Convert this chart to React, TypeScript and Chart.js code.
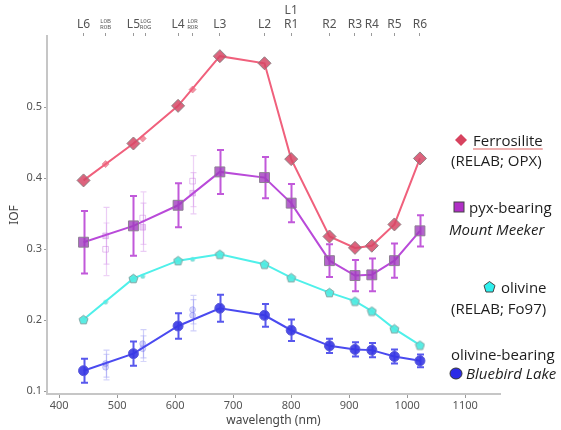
import React, { useEffect, useRef } from 'react';
import { Chart, registerables } from 'chart.js';
Chart.register(...registerables);

// ---------------- data ----------------
const WL_MAIN = [442, 528, 605, 677, 754, 800, 866, 910, 939, 978, 1022];
const WL_BAYER = [480, 544, 630];

const FERRO = [0.397, 0.449, 0.502, 0.572, 0.562, 0.427, 0.318, 0.302, 0.305, 0.335, 0.428];
const FERRO_BAYER = [0.420, 0.456, 0.525];

const PYX = [0.310, 0.333, 0.362, 0.409, 0.401, 0.365, 0.284, 0.263, 0.264, 0.284, 0.326];
const PYX_ERR = [0.044, 0.042, 0.031, 0.031, 0.029, 0.027, 0.023, 0.022, 0.023, 0.024, 0.022];
const PYX_BAYER_L = [0.319, 0.331, 0.379];
const PYX_BAYER_L_ERR = [0.040, 0.034, 0.029];
const PYX_BAYER_R = [0.300, 0.344, 0.396];
const PYX_BAYER_R_ERR = [0.037, 0.037, 0.036];

const OLIV = [0.201, 0.259, 0.284, 0.293, 0.279, 0.260, 0.239, 0.227, 0.213, 0.188, 0.165];
const OLIV_BAYER = [0.226, 0.262, 0.286];

const BLUE = [0.129, 0.153, 0.192, 0.217, 0.207, 0.186, 0.164, 0.159, 0.158, 0.149, 0.143];
const BLUE_ERR = [0.017, 0.017, 0.018, 0.019, 0.016, 0.015, 0.010, 0.010, 0.010, 0.010, 0.009];
const BLUE_BAYER_L = [0.139, 0.167, 0.207];
const BLUE_BAYER_L_ERR = [0.019, 0.020, 0.022];
const BLUE_BAYER_R = [0.134, 0.160, 0.215];
const BLUE_BAYER_R_ERR = [0.018, 0.018, 0.020];

const X_TICKS = [400, 500, 600, 700, 800, 900, 1000, 1100];
const Y_TICKS = [0.1, 0.2, 0.3, 0.4, 0.5];
const TOP_TICK_WL = [442, 480, 528, 549, 605, 630, 677, 754, 800, 866, 910, 939, 978, 1022];
const TOP_TICK_LABELS: (string | string[])[] = [
  'L6', ['L0B', 'R0B'], 'L5', ['L0G', 'R0G'], 'L4', ['L0R', 'R0R'], 'L3', 'L2', ['L1', 'R1'],
  'R2', 'R3', 'R4', 'R5', 'R6',
];
const SMALL_TOP = [1, 3, 5];

// ---------------- helpers ----------------
const pts = (xs: number[], ys: number[]) => xs.map((x, i) => ({ x, y: ys[i] }));

function pentagon(size: number, fill: string, stroke: string) {
  const c = document.createElement('canvas');
  c.width = size;
  c.height = size;
  const g = c.getContext('2d')!;
  const r = size / 2 - 0.8;
  const cx = size / 2;
  const cy = size / 2 + r * 0.1;
  g.beginPath();
  for (let i = 0; i < 5; i++) {
    const a = -Math.PI / 2 + (i * 2 * Math.PI) / 5;
    const px = cx + r * Math.cos(a);
    const py = cy + r * Math.sin(a);
    if (i === 0) g.moveTo(px, py);
    else g.lineTo(px, py);
  }
  g.closePath();
  g.fillStyle = fill;
  g.fill();
  g.lineWidth = 1;
  g.strokeStyle = stroke;
  g.stroke();
  return c;
}

const errorBars = {
  id: 'errorBars',
  beforeDatasetsDraw(chart: any) {
    const { ctx, scales } = chart;
    const xs = scales.x;
    const ys = scales.y;
    chart.data.datasets.forEach((ds: any) => {
      if (!ds.errors) return;
      ctx.save();
      ctx.strokeStyle = ds.errColor;
      ctx.lineWidth = ds.errWidth || 1.5;
      ds.data.forEach((p: any, j: number) => {
        const e = ds.errors[j];
        const px = Math.round(xs.getPixelForValue(p.x)) + 0.5;
        const yt = ys.getPixelForValue(p.y + e);
        const yb = ys.getPixelForValue(p.y - e);
        const cw = ds.capW || 3;
        ctx.beginPath();
        ctx.moveTo(px, yt);
        ctx.lineTo(px, yb);
        ctx.moveTo(px - cw, yt);
        ctx.lineTo(px + cw, yt);
        ctx.moveTo(px - cw, yb);
        ctx.lineTo(px + cw, yb);
        ctx.stroke();
      });
      ctx.restore();
    });
  },
};

const FERRO_LINE = '#f0607c';
const PYX_LINE = '#b94ad9';
const OLIV_LINE = '#4ff0ea';
const BLUE_LINE = '#4a4af0';

export default function App() {
  const ref = useRef<HTMLCanvasElement>(null);

  useEffect(() => {
    const olivMain = pentagon(11, 'rgba(80,235,225,0.95)', '#7fa6a4');
    const olivSmall = pentagon(6, 'rgba(90,235,225,0.9)', '#8fd8d4');

    const chart = new Chart(ref.current!, {
      type: 'scatter',
      data: {
        datasets: [
          {
            label: 'pyxBL',
            data: pts(WL_BAYER, PYX_BAYER_L),
            showLine: false,
            pointStyle: 'rect',
            pointRadius: 4,
            backgroundColor: 'rgba(200,120,225,0.35)',
            borderColor: 'rgba(200,120,225,0.4)',
            borderWidth: 1,
            errors: PYX_BAYER_L_ERR,
            errColor: 'rgba(205,130,230,0.4)',
            errWidth: 1.2,
            capW: 3,
            order: 5,
          } as any,
          {
            label: 'pyxBR',
            data: pts(WL_BAYER, PYX_BAYER_R),
            showLine: false,
            pointStyle: 'rect',
            pointRadius: 4,
            backgroundColor: 'rgba(255,255,255,0)',
            borderColor: 'rgba(200,120,225,0.45)',
            borderWidth: 1,
            errors: PYX_BAYER_R_ERR,
            errColor: 'rgba(205,130,230,0.35)',
            errWidth: 1.2,
            capW: 3,
            order: 5,
          } as any,
          {
            label: 'blueBL',
            data: pts(WL_BAYER, BLUE_BAYER_L),
            showLine: false,
            pointStyle: 'circle',
            pointRadius: 3,
            backgroundColor: 'rgba(110,110,240,0.3)',
            borderColor: 'rgba(110,110,240,0.3)',
            borderWidth: 1,
            errors: BLUE_BAYER_L_ERR,
            errColor: 'rgba(120,120,240,0.35)',
            errWidth: 1.2,
            capW: 3,
            order: 5,
          } as any,
          {
            label: 'blueBR',
            data: pts(WL_BAYER, BLUE_BAYER_R),
            showLine: false,
            pointStyle: 'circle',
            pointRadius: 3,
            backgroundColor: 'rgba(110,110,240,0.25)',
            borderColor: 'rgba(110,110,240,0.3)',
            borderWidth: 1,
            errors: BLUE_BAYER_R_ERR,
            errColor: 'rgba(120,120,240,0.3)',
            errWidth: 1.2,
            capW: 3,
            order: 5,
          } as any,
          {
            label: 'ferroB',
            data: pts(WL_BAYER, FERRO_BAYER),
            showLine: false,
            pointStyle: 'rectRot',
            pointRadius: 3.5,
            backgroundColor: 'rgba(240,110,130,0.75)',
            borderColor: 'rgba(220,120,140,0.6)',
            borderWidth: 1,
            order: 4,
          },
          {
            label: 'olivB',
            data: pts(WL_BAYER, OLIV_BAYER),
            showLine: false,
            pointStyle: olivSmall,
            pointRadius: 3,
            order: 4,
          },
          {
            label: 'Ferrosilite',
            data: pts(WL_MAIN, FERRO),
            showLine: true,
            borderColor: FERRO_LINE,
            borderWidth: 2,
            pointStyle: 'rectRot',
            pointRadius: 6.5,
            pointBackgroundColor: 'rgba(214,72,102,0.85)',
            pointBorderColor: '#8d7f82',
            pointBorderWidth: 1,
            order: 1,
          },
          {
            label: 'pyx',
            data: pts(WL_MAIN, PYX),
            showLine: true,
            borderColor: PYX_LINE,
            borderWidth: 2,
            pointStyle: 'rect',
            pointRadius: 7,
            pointBackgroundColor: 'rgba(160,60,190,0.8)',
            pointBorderColor: '#8e7f94',
            pointBorderWidth: 1,
            errors: PYX_ERR,
            errColor: 'rgba(182,60,212,0.85)',
            errWidth: 2,
            capW: 3.5,
            order: 1,
          } as any,
          {
            label: 'olivine',
            data: pts(WL_MAIN, OLIV),
            showLine: true,
            borderColor: OLIV_LINE,
            borderWidth: 2,
            pointStyle: olivMain,
            pointRadius: 5,
            order: 1,
          },
          {
            label: 'blue',
            data: pts(WL_MAIN, BLUE),
            showLine: true,
            borderColor: BLUE_LINE,
            borderWidth: 2,
            pointStyle: 'circle',
            pointRadius: 5,
            pointBackgroundColor: 'rgba(55,55,228,0.9)',
            pointBorderColor: '#5a5ad8',
            pointBorderWidth: 1,
            errors: BLUE_ERR,
            errColor: 'rgba(70,70,235,0.9)',
            errWidth: 2,
            capW: 3.5,
            order: 1,
          } as any,
        ],
      },
      options: {
        responsive: false,
        animation: false,
        layout: { padding: { left: 0, right: 61, top: 0, bottom: 0 } },
        plugins: {
          legend: { display: false },
          tooltip: { enabled: false },
        },
        scales: {
          x: {
            type: 'linear',
            position: 'bottom',
            min: 379,
            max: 1160,
            afterBuildTicks: (s: any) => {
              s.ticks = X_TICKS.map((v) => ({ value: v }));
            },
            afterFit: (s: any) => {
              s.height = 36;
            },
            grid: { drawOnChartArea: false, drawTicks: true, tickLength: 4, color: '#9a9a9a', lineWidth: 1 },
            border: { display: true, color: '#c6c6c6', width: 2 },
            ticks: {
              autoSkip: false,
              maxRotation: 0,
              padding: 1,
              color: '#555',
              font: { family: '"Noto Sans", sans-serif', size: 11 },
              callback: (v: any) => String(v),
            },
            title: {
              display: true,
              text: 'wavelength (nm)',
              color: '#444',
              font: { family: '"Noto Sans", sans-serif', size: 12 },
              padding: { top: 0, bottom: 2 },
            },
          },
          x2: {
            type: 'linear',
            position: 'top',
            min: 379,
            max: 1160,
            afterBuildTicks: (s: any) => {
              s.ticks = TOP_TICK_WL.map((v) => ({ value: v }));
            },
            afterFit: (s: any) => {
              s.height = 36;
            },
            grid: { drawOnChartArea: false, drawTicks: true, tickLength: 3, color: '#9a9a9a', lineWidth: 1 },
            border: { display: false },
            ticks: {
              autoSkip: false,
              maxRotation: 0,
              padding: 2,
              color: '#555',
              font: (ctx: any) =>
                SMALL_TOP.includes(ctx.index)
                  ? { family: '"Noto Sans", sans-serif', size: 6, lineHeight: 1.1 }
                  : { family: '"Noto Sans", sans-serif', size: 12, lineHeight: 1.15 },
              callback: (_v: any, i: number) => TOP_TICK_LABELS[i] as any,
            },
          },
          y: {
            type: 'linear',
            min: 0.0962,
            max: 0.6004,
            afterBuildTicks: (s: any) => {
              s.ticks = Y_TICKS.map((v) => ({ value: v }));
            },
            afterFit: (s: any) => {
              s.width = 47;
            },
            grid: { drawOnChartArea: false, drawTicks: true, tickLength: 3, color: '#9a9a9a', lineWidth: 1 },
            border: { display: true, color: '#c6c6c6', width: 2 },
            ticks: {
              padding: 2,
              color: '#555',
              font: { family: '"Noto Sans", sans-serif', size: 11 },
              callback: (v: any) => Number(v).toFixed(1),
            },
            title: {
              display: true,
              text: 'IOF',
              color: '#444',
              font: { family: '"Noto Sans", sans-serif', size: 12 },
              padding: { top: 7, bottom: 0 },
            },
          },
        },
      } as any,
      plugins: [errorBars],
    });
    return () => chart.destroy();
  }, []);

  const txt: React.CSSProperties = {
    position: 'absolute',
    fontFamily: '"Open Sans", sans-serif',
    fontSize: 15,
    color: '#1e1e1e',
    lineHeight: 1,
    whiteSpace: 'nowrap',
    transform: 'translateY(-50%)',
  };

  return (
    <div style={{ position: 'fixed', left: 0, top: 0, width: 561, height: 430, background: '#fff' }}>
      <canvas ref={ref} width={561} height={430} style={{ position: 'absolute', left: 0, top: 0 }} />
      <svg width={561} height={430} style={{ position: 'absolute', left: 0, top: 0, pointerEvents: 'none' }}>
        <polygon points="461,134 467,140 461,146 455,140" fill="#d7435f" />
        <rect x={454} y={202} width={10} height={10} fill="#b02fc6" stroke="#444" strokeWidth={1} />
        <polygon points="489.5,281.5 495,285.5 493,292 486,292 484,285.5" fill="#2ff0ee" stroke="#444" strokeWidth={1} />
        <ellipse cx={456} cy={373.5} rx={6} ry={5.5} fill="#2b2be6" stroke="#333" strokeWidth={1} />
      </svg>
      <div
        style={{
          ...txt,
          left: 473,
          top: 140,
          textDecoration: 'underline',
          textDecorationColor: '#e06060',
          textDecorationThickness: '1px',
          textUnderlineOffset: '3px',
        }}
      >
        Ferrosilite
      </div>
      <div style={{ ...txt, left: 451, top: 160 }}>(RELAB; OPX)</div>
      <div style={{ ...txt, left: 469, top: 207 }}>pyx-bearing</div>
      <div style={{ ...txt, left: 449, top: 229, fontStyle: 'italic' }}>Mount Meeker</div>
      <div style={{ ...txt, left: 501, top: 287 }}>olivine</div>
      <div style={{ ...txt, left: 451, top: 307.5 }}>(RELAB; Fo97)</div>
      <div style={{ ...txt, left: 451, top: 354 }}>olivine-bearing</div>
      <div style={{ ...txt, left: 466, top: 373, fontStyle: 'italic' }}>Bluebird Lake</div>
    </div>
  );
}
